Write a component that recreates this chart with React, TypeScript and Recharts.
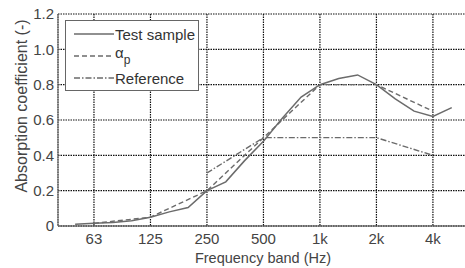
import { CartesianGrid, Legend, Line, LineChart, XAxis, YAxis } from "recharts";

const bands = [
  "50", "63", "80", "100", "125", "160", "200", "250", "315", "400", "500",
  "630", "800", "1k", "1.25k", "1.6k", "2k", "2.5k", "3.15k", "4k", "5k",
];
const testSample = [
  0.01, 0.015, 0.02, 0.03, 0.05, 0.08, 0.105, 0.2, 0.25, 0.37, 0.48,
  0.61, 0.73, 0.8, 0.835, 0.855, 0.8, 0.72, 0.65, 0.62, 0.67,
];
const alphaP = [
  null, 0.015, null, null, 0.05, null, null, 0.2, null, null, 0.5,
  null, null, 0.8, null, null, 0.8, null, null, 0.65, null,
];
const reference = [
  null, null, null, null, null, null, null, 0.3, null, null, 0.5,
  null, null, 0.5, null, null, 0.5, null, null, 0.4, null,
];
const xTickBands = ["63", "125", "250", "500", "1k", "2k", "4k"];
const yTicks = [0, 0.2, 0.4, 0.6, 0.8, 1.0, 1.2];

const data = bands.map((band, i) => ({
  i,
  band,
  test: testSample[i],
  ap: alphaP[i],
  ref: reference[i],
}));

const FONT = '"Liberation Sans", Arial, sans-serif';
const LINE = "#6b6b6b";

const series = [
  { key: "test", dash: undefined as string | undefined, label: "Test sample" },
  { key: "ap", dash: "5 3", label: "α" },
  { key: "ref", dash: "6 2 1.5 2", label: "Reference" },
];

function LegendBox() {
  return (
    <div
      style={{
        width: 134,
        height: 71,
        border: "1px solid #666",
        background: "#fff",
        fontFamily: FONT,
        fontSize: 15,
        color: "#333",
        boxSizing: "border-box",
        paddingTop: 2,
      }}
    >
      {series.map((s) => (
        <div key={s.key} style={{ display: "flex", alignItems: "center", height: 22 }}>
          <svg width={48} height={10} style={{ marginLeft: 6 }}>
            <line x1={2} y1={5} x2={42} y2={5} stroke={LINE} strokeWidth={1.3} strokeDasharray={s.dash} />
          </svg>
          <span style={{ marginLeft: -5, lineHeight: "15px" }}>
            {s.label}
            {s.key === "ap" ? <sub style={{ fontSize: 12, verticalAlign: "-6px" }}>p</sub> : null}
          </span>
        </div>
      ))}
    </div>
  );
}

export default function App() {
  const tickStyle = { fontFamily: FONT, fontSize: 15, fill: "#444" };
  return (
    <div style={{ position: "absolute", left: 0, top: 0, width: 465, height: 268, overflow: "hidden", background: "#fff" }}>
      <LineChart width={480} height={268} data={data} margin={{ top: 14, right: 0, bottom: 0, left: 0 }}>
        <CartesianGrid stroke="#111" strokeDasharray="1.5 1" strokeWidth={1.2} />
        <XAxis
          type="number"
          dataKey="i"
          domain={[-0.91, 21.5]}
          ticks={xTickBands.map((b) => bands.indexOf(b))}
          tickFormatter={(v: number) => bands[v]}
          allowDataOverflow
          height={42}
          tickLine={false}
          tickSize={4}
          tickMargin={3}
          axisLine={{ stroke: "#444", strokeWidth: 1.2 }}
          tick={tickStyle}
          label={{
            value: "Frequency band (Hz)",
            position: "insideBottom",
            offset: 5,
            dx: -6,
            style: { fontFamily: FONT, fontSize: 14.5, fill: "#444" },
          }}
        />
        <YAxis
          type="number"
          domain={[0, 1.2]}
          ticks={yTicks}
          tickFormatter={(v: number) => (v === 0 ? "0" : v.toFixed(1))}
          width={58}
          tickLine={false}
          tickSize={2}
          tickMargin={2}
          axisLine={{ stroke: "#777", strokeWidth: 1.2 }}
          tick={tickStyle}
          label={{
            content: () => (
              <text
                x={21}
                y={106}
                transform="rotate(-90 21 106)"
                textAnchor="middle"
                dominantBaseline="central"
                style={{ fontFamily: FONT, fontSize: 16, fill: "#444" }}
              >
                Absorption coefficient (-)
              </text>
            ),
          }}
        />
        <Legend
          layout="vertical"
          align="center"
          verticalAlign="middle"
          wrapperStyle={{ left: 65, top: 20, width: 134, height: 72 }}
          content={() => <LegendBox />}
        />
        <Line dataKey="test" stroke={LINE} strokeWidth={1.5} dot={false} isAnimationActive={false} />
        <Line dataKey="ap" stroke={LINE} strokeWidth={1.4} strokeDasharray="5 3" dot={false} connectNulls isAnimationActive={false} />
        <Line dataKey="ref" stroke={LINE} strokeWidth={1.4} strokeDasharray="6 2 1.5 2" dot={false} connectNulls isAnimationActive={false} />
      </LineChart>
    </div>
  );
}
